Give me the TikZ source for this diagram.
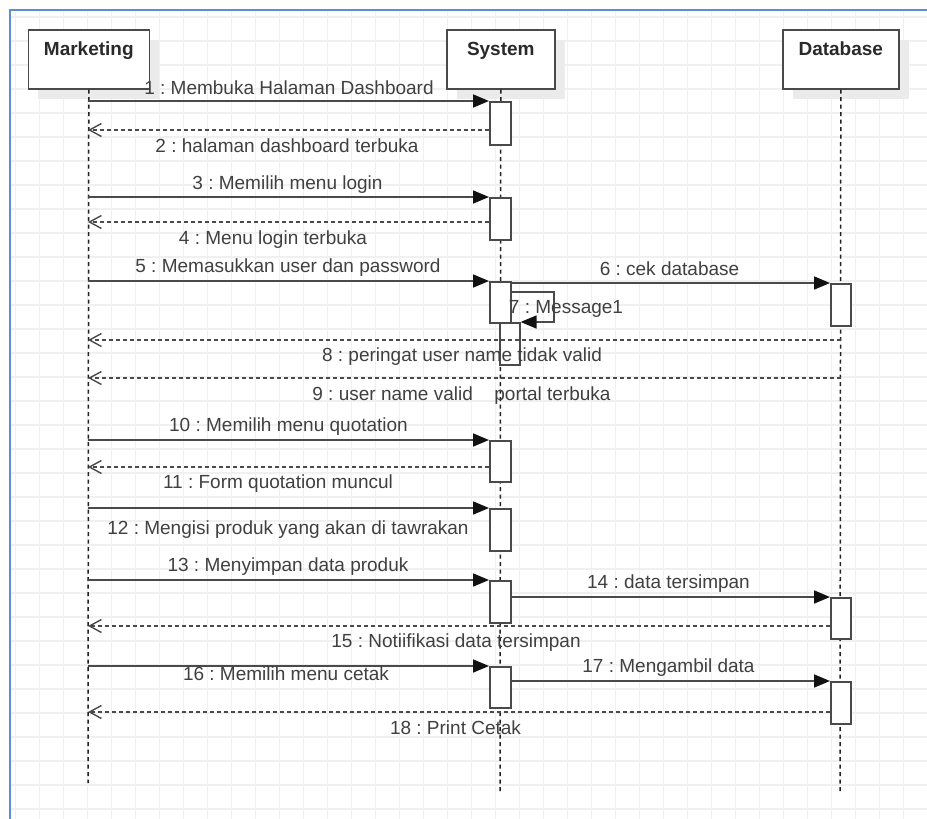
\documentclass[tikz,border=0pt]{standalone}
\usepackage{fontspec}
\setmainfont{Liberation Sans}
\frenchspacing
\usetikzlibrary{arrows.meta,shadows}
\definecolor{framec}{HTML}{5B8FD4}
\definecolor{gridc}{HTML}{F0F0F0}
\definecolor{linec}{HTML}{4A4A4A}
\definecolor{tipc}{HTML}{111111}
\definecolor{lifec}{HTML}{222222}
\definecolor{textc}{HTML}{404040}
\definecolor{headtc}{HTML}{2A2A2A}
\definecolor{shadowc}{HTML}{EBEBEB}

\begin{document}
\begin{tikzpicture}[x=1pt,y=-1pt,
  head/.style={draw=linec, line width=1.6pt, fill=white, minimum height=59pt,
    anchor=north west, inner sep=0pt,
    drop shadow={shadow xshift=10pt, shadow yshift=-10pt, fill=shadowc, opacity=1}},
  headtxt/.style={font=\fontsize{19}{22}\selectfont\bfseries, text=headtc, anchor=base, inner sep=0pt},
  life/.style={draw=lifec, line width=1.5pt, dash pattern=on 4pt off 3.5pt},
  act/.style={draw=linec, line width=1.6pt, fill=white, minimum width=21pt,
    inner sep=0pt, anchor=north west},
  call/.style={draw=linec, line width=1.7pt,
    -{Triangle[length=16pt,width=13pt,color=tipc]}},
  reply/.style={draw=linec, line width=1.6pt, dash pattern=on 4pt off 3pt,
    -{Straight Barb[length=12pt,width=13pt,line width=1.4pt]}},
  msgtxt/.style={font=\fontsize{19}{22}\selectfont, text=textc, anchor=base, inner sep=0pt}
]
% page and canvas
\useasboundingbox (0,0) rectangle (927,819);
\fill[white] (0,0) rectangle (927,819);
\begin{scope}
  \clip (11,11) rectangle (927,819);
  \foreach \k in {0,...,38} \draw[gridc, line width=1.4pt] (15.3+24*\k,0) -- (15.3+24*\k,819);
  \foreach \k in {0,...,33} \draw[gridc, line width=1.4pt] (0,17+24*\k) -- (927,17+24*\k);
\end{scope}
\draw[framec, line width=2pt] (10,819) -- (10,10) -- (927,10);

% lifeline heads
\node[head, minimum width=121pt] (mk) at (27.5,29) {};
\node[head, minimum width=108pt] (sys) at (446,29) {};
\node[head, minimum width=116pt] (db) at (782,29) {};
\node[headtxt] (mkT) at ([yshift=-26pt]mk.north) {Marketing};
\node[headtxt] (sysT) at ([yshift=-26pt]sys.north) {System};
\node[headtxt] (dbT) at ([yshift=-26pt]db.north) {Database};

% lifelines
\coordinate (mkEnd) at (88,783);
\coordinate (sysEnd) at (500,793);
\coordinate (dbEnd) at (840,793);
\draw[life] (mk.south) -- (mkEnd);
\draw[life] (sys.south) -- (sysEnd);
\draw[life] (db.south) -- (dbEnd);

% activation bars
\node[act, minimum height=43pt] (A1) at (489,101) {};
\node[act, minimum height=42pt] (A2) at (489,197) {};
\node[act, minimum height=41pt] (A3) at (489,281) {};
\node[act, minimum height=42pt, minimum width=20pt] (A4) at (499,322) {};
\node[act, minimum height=41pt] (A5) at (489,440) {};
\node[act, minimum height=42pt] (A6) at (489,508) {};
\node[act, minimum height=42pt] (A7) at (489,580) {};
\node[act, minimum height=41pt] (A8) at (489,666) {};
\node[act, minimum height=42pt, minimum width=20pt] (D1) at (830,283) {};
\node[act, minimum height=41pt, minimum width=20pt] (D2) at (830,597) {};
\node[act, minimum height=42pt, minimum width=20pt] (D3) at (830,681) {};

% points on the Marketing lifeline
\coordinate (p1) at (88,101);
\coordinate (p2) at (88,130);
\coordinate (p3) at (88,197);
\coordinate (p4) at (88,222);
\coordinate (p5) at (88,281);
\coordinate (p8) at (88,340);
\coordinate (p9) at (88,378);
\coordinate (p10) at (88,440);
\coordinate (p11) at (88,467);
\coordinate (p12) at (88,508);
\coordinate (p13) at (88,580);
\coordinate (p15) at (88,626);
\coordinate (p16) at (88,666);
\coordinate (p18) at (88,712);
\coordinate (q6) at (510,283);
\coordinate (q14) at (510,597);
\coordinate (q17) at (510,681);
\coordinate (c7a) at (554,292);
\coordinate (c7b) at (554,322);

% messages
\draw[call] (p1) -- (A1.west |- p1);
\draw[reply] (A1.west |- p2) -- (p2);
\draw[call] (p3) -- (A2.west |- p3);
\draw[reply] (A2.west |- p4) -- (p4);
\draw[call] (p5) -- (A3.west |- p5);
\draw[call] (A3.east |- q6) -- (D1.west |- q6);
\draw[call] (A3.east |- c7a) -- (c7a) -- (c7b) -- (A4.east |- c7b);
\draw[reply] (db.south |- p8) -- (p8);
\draw[reply] (db.south |- p9) -- (p9);
\draw[call] (p10) -- (A5.west |- p10);
\draw[reply] (A5.west |- p11) -- (p11);
\draw[call] (p12) -- (A6.west |- p12);
\draw[call] (p13) -- (A7.west |- p13);
\draw[call] (A7.east |- q14) -- (D2.west |- q14);
\draw[reply] (D2.west |- p15) -- (p15);
\draw[call] (p16) -- (A8.west |- p16);
\draw[call] (A8.east |- q17) -- (D3.west |- q17);
\draw[reply] (D3.west |- p18) -- (p18);

% message labels
\node[msgtxt] (t1) at (289,94) {1 : Membuka Halaman Dashboard};
\node[msgtxt] (t2) at (287,152) {2 : halaman dashboard terbuka};
\node[msgtxt] (t3) at (287.5,189) {3 : Memilih menu login};
\node[msgtxt] (t4) at (273,244) {4 : Menu login terbuka};
\node[msgtxt] (t5) at (288,272) {5 : Memasukkan user dan password};
\node[msgtxt] (t6) at (669.5,275) {6 : cek database};
\node[msgtxt] (t7) at (566,313) {7 : Message1};
\node[msgtxt] (t8) at (462,361) {8 : peringat user name tidak valid};
\node[msgtxt] (t9) at (461.5,400) {9 : user name valid\hspace{21.5pt}portal terbuka};
\node[msgtxt] (t10) at (288.5,431) {10 : Memilih menu quotation};
\node[msgtxt] (t11) at (278,488) {11 : Form quotation muncul};
\node[msgtxt] (t12) at (288,534) {12 : Mengisi produk yang akan di tawrakan};
\node[msgtxt] (t13) at (288,571) {13 : Menyimpan data produk};
\node[msgtxt] (t14) at (668.5,588) {14 : data tersimpan};
\node[msgtxt] (t15) at (456,647) {15 : Notiifikasi data tersimpan};
\node[msgtxt] (t16) at (286,680) {16 : Memilih menu cetak};
\node[msgtxt] (t17) at (668.5,672) {17 : Mengambil data};
\node[msgtxt] (t18) at (455.5,734) {18 : Print Cetak};
\end{tikzpicture}
\end{document}
